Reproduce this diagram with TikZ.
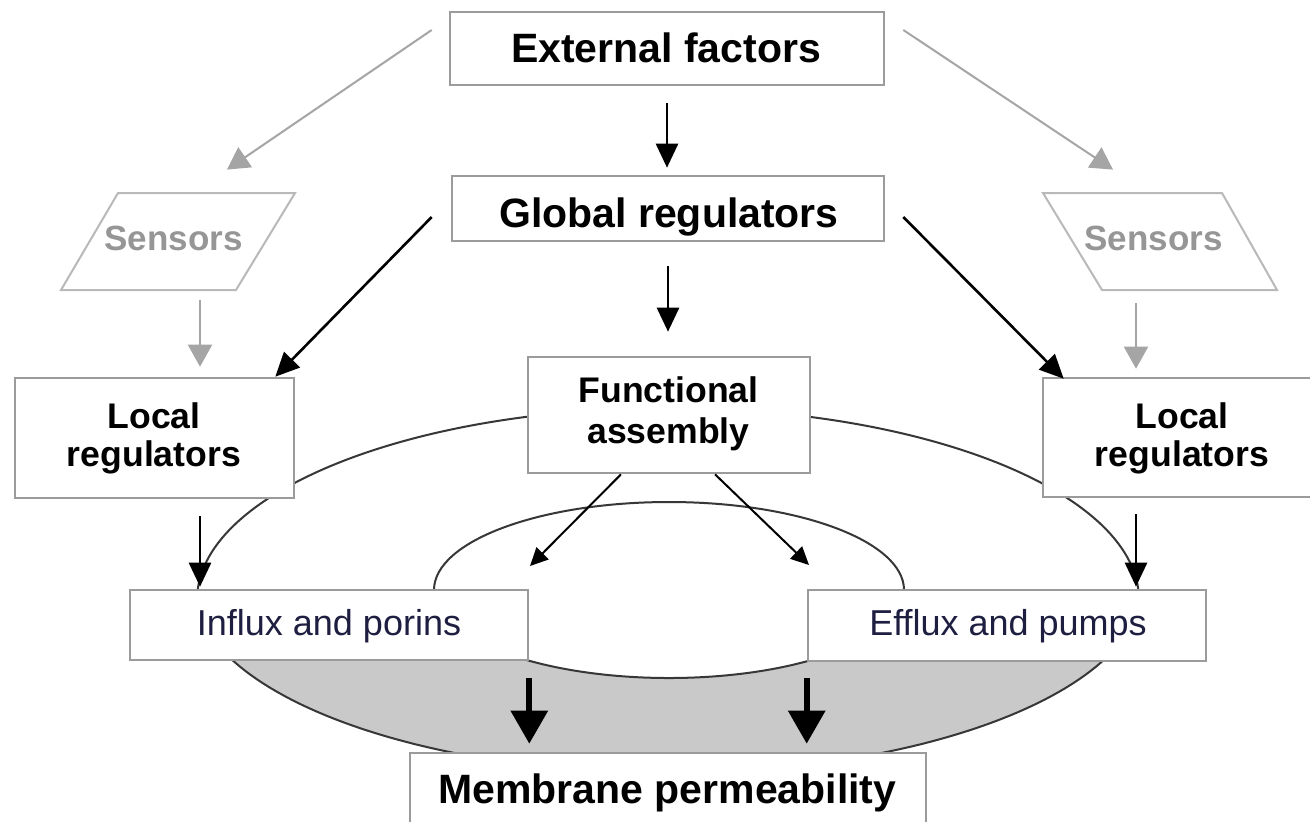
\documentclass[tikz,border=0pt]{standalone}
\usepackage{fontspec}
\setmainfont{Liberation Sans}
\usetikzlibrary{arrows.meta,calc,fit}
\definecolor{boxgray}{RGB}{155,155,155}
\definecolor{sengray}{RGB}{185,185,185}
\definecolor{arrgray}{RGB}{165,165,165}
\definecolor{sentext}{RGB}{150,150,150}
\definecolor{fillgray}{RGB}{201,201,201}
\definecolor{ellline}{RGB}{55,55,55}
\definecolor{navy}{RGB}{30,30,65}
\begin{document}
\begin{tikzpicture}[x=0.5pt,y=-0.5pt,
  box/.style={draw=boxgray,line width=1.3pt,fill=white,inner sep=0pt},
  ghost/.style={inner sep=0pt},
  big/.style={font=\bfseries\fontsize{20.5}{24}\selectfont,anchor=base,inner sep=0pt},
  mid/.style={font=\bfseries\fontsize{17.8}{21}\selectfont,anchor=base,inner sep=0pt},
  small/.style={font=\fontsize{18}{21}\selectfont,anchor=base,inner sep=0pt,text=navy},
  senlab/.style={font=\bfseries\fontsize{17.5}{21}\selectfont,anchor=base,inner sep=0pt,text=sentext},
  senshape/.style={draw=sengray,line width=1pt,line join=miter},
  barrow/.style={draw=black,line width=1.3pt,-{Triangle[length=12pt,width=11pt]}},
  sarrow/.style={draw=black,line width=1pt,-{Triangle[length=9pt,width=8.5pt]}},
  garrow/.style={draw=arrgray,line width=1pt,-{Triangle[length=11pt,width=12pt]}},
  tarrow/.style={draw=black,line width=3pt,-{Triangle[length=16.5pt,width=18pt]}},
  ell/.style={draw=ellline,line width=1pt},
]
\clip (0,0) rectangle (1310,821);
\fill[white] (0,0) rectangle (1310,821);
% shaded region
\begin{scope}
  \clip (0,660) rectangle (1310,821);
  \fill[fillgray] (668,585) ellipse [x radius=237.5pt, y radius=94pt];
  \fill[white] (669,590) ellipse [x radius=117.5pt, y radius=44pt];
\end{scope}
% outer loop: upper and lower arcs
\begin{scope}
  \clip (0,0) rectangle (1310,625);
  \draw[ell] (668,600) ellipse [x radius=235.5pt, y radius=96pt];
\end{scope}
\begin{scope}
  \clip (0,625) rectangle (1310,821);
  \draw[ell] (668,585) ellipse [x radius=237.5pt, y radius=94pt];
\end{scope}
% inner loop
\draw[ell] (669,590) ellipse [x radius=117.5pt, y radius=44pt];
% boxes
\node[box, fit={(450,12) (884,85)}] (ext) {};
\node[box, fit={(452,176) (884,241)}] (glob) {};
\node[box, fit={(528,357) (810,473)}] (func) {};
\node[box, fit={(15,378) (294,498)}] (locL) {};
\node[box, fit={(1043,378) (1323,497)}] (locR) {};
\node[box, fit={(130,590) (528,660)}] (influx) {};
\node[box, fit={(808,590) (1206,661)}] (efflux) {};
\node[box, fit={(410,753) (926,830)}] (memb) {};
% sensors
\draw[senshape] (118,193) -- (295,193) -- (236,290) -- (61,290) -- cycle;
\node[ghost, fit={(61,193) (295,290)}] (senL) {};
\draw[senshape] (1043,193) -- (1222,193) -- (1277,290) -- (1102,290) -- cycle;
\node[ghost, fit={(1043,193) (1277,290)}] (senR) {};
% texts
\node[big] (extT) at (666,62) {External factors};
\node[big] (globT) at (669,227) {Global regulators};
\node[mid] (funcT1) at (668.5,402) {Functional};
\node[mid] (funcT2) at (668.5,443) {assembly};
\node[mid] (locLT1) at (154,428) {Local};
\node[mid] (locLT2) at (154,466) {regulators};
\node[mid] (locRT1) at (1182,428) {Local};
\node[mid] (locRT2) at (1182,466) {regulators};
\node[senlab] (senLT) at (173.5,250) {Sensors};
\node[senlab] (senRT) at (1153.5,250) {Sensors};
\node[small] (influxT) at (329,635) {Influx and porins};
\node[small] (effluxT) at (1008,635) {Efflux and pumps};
\node[big] (membT) at (667.5,803) {Membrane permeability};
% connectors
\coordinate (xl) at (200,0);
\coordinate (xr) at (1136,0);
\draw[barrow, shorten <=8.5pt, shorten >=3.5pt] (ext.south) -- (ext.south |- glob.north);
\draw[barrow, shorten <=12pt, shorten >=12pt] (glob.south) -- (glob.south |- func.north);
\draw[barrow] ($(glob.west)+(-19,8.5)$) -- ($(locL.north east)+(-20,0)$);
\draw[barrow] ($(glob.east)+(18,8.5)$) -- ($(locR.north west)+(22,2)$);
\draw[garrow] ($(ext.west)+(-17,-18.5)$) -- ($(senL.north)+(49,-23)$);
\draw[garrow] ($(ext.east)+(18,-18.5)$) -- ($(senR.north)+(-47,-23)$);
\draw[garrow, shorten <=5pt, shorten >=5pt] (senL.south -| xl) -- (locL.north -| xl);
\draw[garrow, shorten <=6.5pt, shorten >=4pt] (senR.south -| xr) -- (locR.north -| xr);
\draw[barrow, shorten <=8.5pt, shorten >=1pt] (locL.south -| xl) -- (influx.north -| xl);
\draw[barrow, shorten <=8pt, shorten >=1pt] (locR.south -| xr) -- (efflux.north -| xr);
\coordinate (tipL) at (530,566);
\coordinate (tipR) at (809,565);
\draw[sarrow] ($(func.south)+(-48,0)$) -- (tipL);
\draw[sarrow] ($(func.south)+(46,0)$) -- (tipR);
\draw[tarrow, shorten <=8.5pt, shorten >=4pt] (influx.south east) -- (influx.south east |- memb.north);
\draw[tarrow, shorten <=8pt, shorten >=4pt] (efflux.south west) -- (efflux.south west |- memb.north);
\end{tikzpicture}
\end{document}
